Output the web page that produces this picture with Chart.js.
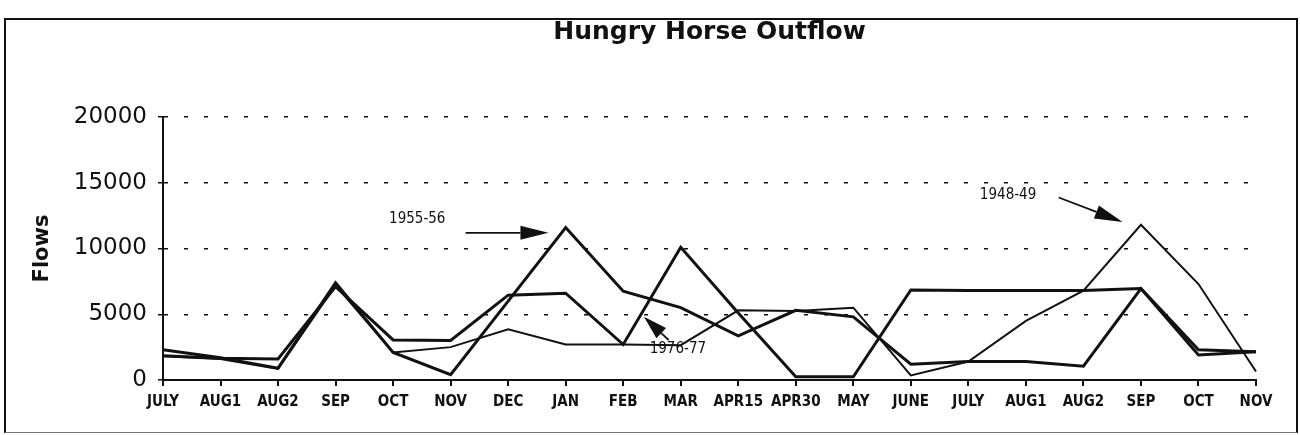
<!DOCTYPE html>
<html>
<head>
<meta charset="utf-8">
<script src="https://cdn.jsdelivr.net/npm/chart.js@4.4.0/dist/chart.umd.min.js"></script>
<style>
  html, body { margin: 0; padding: 0; background: #fff; }
  #wrap { position: relative; width: 1300px; height: 435px; }
  #frame {
    position: absolute; left: 4px; top: 18px; width: 1290px; height: 412px;
    border: 2px solid #111; border-bottom: 1px solid #777; pointer-events: none;
  }
</style>
</head>
<body>
<div id="wrap">
  <canvas id="outflowChart" width="1300" height="435"></canvas>
  <div id="frame"></div>
</div>
<script>
// categories (water year, July through the following November)
const periods = ["JULY", "AUG1", "AUG2", "SEP", "OCT", "NOV", "DEC", "JAN", "FEB", "MAR",
  "APR15", "APR30", "MAY", "JUNE", "JULY", "AUG1", "AUG2", "SEP", "OCT", "NOV"];

// outflow
const flow1976 = [1850, 1650, 1600, 7100, 3050, 3000, 6450, 6600, 2700, 10100,
  5100, 250, 250, 6850, 6800, 6800, 6800, 6950, 2300, 2150];
const flow1955 = [2300, 1700, 900, 7400, 2100, 400, 6000, 11600, 6750, 5500,
  3350, 5300, 4800, 1200, 1400, 1400, 1050, 6950, 1900, 2150];
const flow1948 = [1800, 1600, 850, 7200, 2100, 2500, 3850, 2700, 2700, 2650,
  5300, 5250, 5500, 350, 1400, 4500, 6800, 11800, 7300, 650];

const flowTicks = [0, 5000, 10000, 15000, 20000];

// callouts: label, text anchor and arrow ends as [category index, flow]
const noteLabels = ["1955-56", "1976-77", "1948-49"];
const noteAt = [[4.42, 12200], [8.95, 2350], [14.69, 14050]];
const arrowFrom = [[5.26, 11190], [8.79, 3040], [15.57, 13880]];
const arrowTo = [[6.70, 11190], [8.36, 4810], [16.68, 12020]];

const ink = "#111";
const narrow = "'DejaVu Sans Condensed', 'DejaVu Sans', sans-serif";

/**
 * draw the year labels with their arrows
 */
const notesPlugin = {
  id: "notes",
  afterDatasetsDraw(chart) {
    const { ctx, scales: { x, y } } = chart;
    ctx.save();
    ctx.fillStyle = ink;
    ctx.strokeStyle = ink;
    ctx.font = "15px " + narrow;
    ctx.textAlign = "center";
    ctx.textBaseline = "middle";
    for (let i = 0; i < noteLabels.length; i++) {
      ctx.fillText(noteLabels[i], x.getPixelForValue(noteAt[i][0]), y.getPixelForValue(noteAt[i][1]));

      const x1 = x.getPixelForValue(arrowFrom[i][0]);
      const y1 = y.getPixelForValue(arrowFrom[i][1]);
      const x2 = x.getPixelForValue(arrowTo[i][0]);
      const y2 = y.getPixelForValue(arrowTo[i][1]);
      const len = Math.hypot(x2 - x1, y2 - y1);
      const cos = (x2 - x1) / len;
      const sin = (y2 - y1) / len;
      const head = Math.min(28, len * 0.7);
      const half = 7;
      const bx = x2 - head * cos;
      const by = y2 - head * sin;

      ctx.lineWidth = 1.8;
      ctx.beginPath();
      ctx.moveTo(x1, y1);
      ctx.lineTo(bx, by);
      ctx.stroke();

      ctx.beginPath();
      ctx.moveTo(x2, y2);
      ctx.lineTo(bx + half * sin, by - half * cos);
      ctx.lineTo(bx - half * sin, by + half * cos);
      ctx.closePath();
      ctx.fill();
    }
    ctx.restore();
  }
};

const ctx = document.getElementById("outflowChart").getContext("2d");
new Chart(ctx, {
  type: "line",
  data: {
    labels: periods,
    datasets: [
      { label: "1976-77", data: flow1976, borderColor: ink, borderWidth: 3 },
      { label: "1955-56", data: flow1955, borderColor: ink, borderWidth: 3 },
      { label: "1948-49", data: flow1948, borderColor: ink, borderWidth: 2 }
    ]
  },
  options: {
    responsive: false,
    animation: false,
    layout: { padding: { left: 0, right: 44, top: 0, bottom: 0 } },
    elements: {
      line: { tension: 0, fill: false, borderJoinStyle: "miter" },
      point: { radius: 0 }
    },
    plugins: {
      legend: { display: false },
      tooltip: { enabled: false },
      title: {
        display: true,
        fullSize: false,
        text: "Hungry Horse Outflow",
        color: ink,
        font: { family: "'DejaVu Sans', sans-serif", size: 25, weight: "bold" },
        padding: { top: 17, bottom: 70 }
      }
    },
    scales: {
      x: {
        offset: false,
        grid: { drawOnChartArea: false, color: ink, lineWidth: 2, tickLength: 6 },
        border: { color: ink, width: 2 },
        ticks: {
          autoSkip: false, maxRotation: 0, color: ink, padding: 7,
          font: { family: narrow, size: 15, weight: "bold" }
        },
        afterFit(scale) { scale.height = 55; }
      },
      y: {
        min: 0,
        max: 20000,
        afterBuildTicks(scale) { scale.ticks = flowTicks.map(v => ({ value: v })); },
        grid: { color: ink, lineWidth: 1.5, tickLength: 5 },
        border: { color: ink, width: 2, dash: [4, 16] },
        ticks: {
          color: ink, padding: 11,
          font: { family: "'DejaVu Sans', sans-serif", size: 23 },
          callback: v => String(v)
        },
        title: {
          display: true,
          text: "Flows",
          color: ink,
          font: { family: "'DejaVu Sans', sans-serif", size: 21, weight: "bold" },
          padding: { top: 30, bottom: 0 }
        },
        afterFit(scale) { scale.width = 163; }
      }
    }
  },
  plugins: [notesPlugin]
});
</script>
</body>
</html>
